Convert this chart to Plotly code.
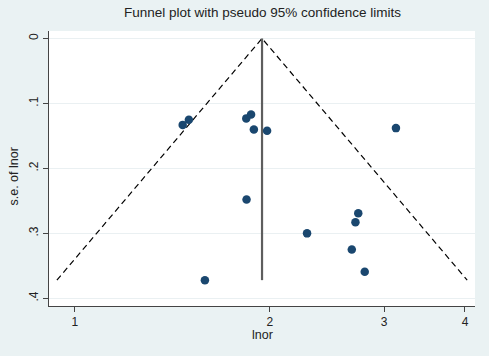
import plotly.graph_objects as go
import math

# study estimates: lnor (log odds ratio) and standard error
lnor = [0.383, 0.405, 0.609, 0.626, 0.636, 0.683, 0.610, 1.007, 0.997,
        0.825, 0.984, 1.030, 1.141, 0.462]
se = [0.133, 0.125, 0.123, 0.117, 0.140, 0.142, 0.248, 0.269, 0.283,
      0.300, 0.325, 0.359, 0.138, 0.372]
theta = 0.665          # pooled lnor (vertical line)
se_max = 0.372
x_ticks = [1, 2, 3, 4]
y_ticks = [0, 0.1, 0.2, 0.3, 0.4]
y_ticklabels = ["0", ".1", ".2", ".3", ".4"]

or_vals = [math.exp(v) for v in lnor]
left = [math.exp(theta - 1.96 * s) for s in (0, se_max)]
right = [math.exp(theta + 1.96 * s) for s in (0, se_max)]

fig = go.Figure()
fig.add_trace(go.Scatter(x=[left[1], left[0], right[1]], y=[se_max, 0, se_max],
                         mode="lines", line=dict(color="black", width=1.2, dash="6px,4px"),
                         showlegend=False, hoverinfo="skip"))
fig.add_trace(go.Scatter(x=[math.exp(theta), math.exp(theta)], y=[0, se_max],
                         mode="lines", line=dict(color="#5e5e5e", width=2.2),
                         showlegend=False, hoverinfo="skip"))
fig.add_trace(go.Scatter(x=or_vals, y=se, mode="markers",
                         marker=dict(color="#1a476f", size=8.5),
                         showlegend=False))

font = "Liberation Sans, Arial, sans-serif"
fig.update_layout(
    width=489, height=356,
    margin=dict(l=49, r=14, t=31, b=50),
    paper_bgcolor="#eaf2f3", plot_bgcolor="white",
    font=dict(family=font, size=12, color="#222"),
    xaxis=dict(type="log", range=[math.log10(0.912), math.log10(4.145)],
               tickvals=x_ticks, ticktext=[str(t) for t in x_ticks],
               ticks="outside", ticklen=5, tickcolor="#444", showgrid=False,
               showline=True, linecolor="#444", linewidth=1, zeroline=False,
               tickfont=dict(size=12, color="#222")),
    yaxis=dict(range=[0.4118, -0.0115], tickvals=y_ticks, ticktext=y_ticklabels,
               tickangle=-90, ticks="outside", ticklen=5, tickcolor="#444",
               showgrid=True, gridcolor="#eaf0f2", gridwidth=1,
               showline=True, linecolor="#444", linewidth=1, zeroline=False,
               tickfont=dict(size=12, color="#222")),
    annotations=[
        dict(text="Funnel plot with pseudo 95% confidence limits", xref="paper", yref="paper",
             x=0.5, y=1, yshift=9, xanchor="center", yanchor="bottom", showarrow=False,
             font=dict(size=13.5, color="#222")),
        dict(text="s.e. of lnor", xref="paper", yref="paper", x=0, xshift=-27, y=0.5,
             yshift=-8, xanchor="right", yanchor="middle", textangle=-90, showarrow=False,
             font=dict(size=12.5, color="#222")),
        dict(text="lnor", xref="paper", yref="paper", x=0.5, y=0, yshift=-20,
             xanchor="center", yanchor="top", showarrow=False,
             font=dict(size=12.5, color="#222")),
    ],
)
fig.write_html("out.html", config={"displayModeBar": False},
               post_script="document.body.style.margin='0';")
